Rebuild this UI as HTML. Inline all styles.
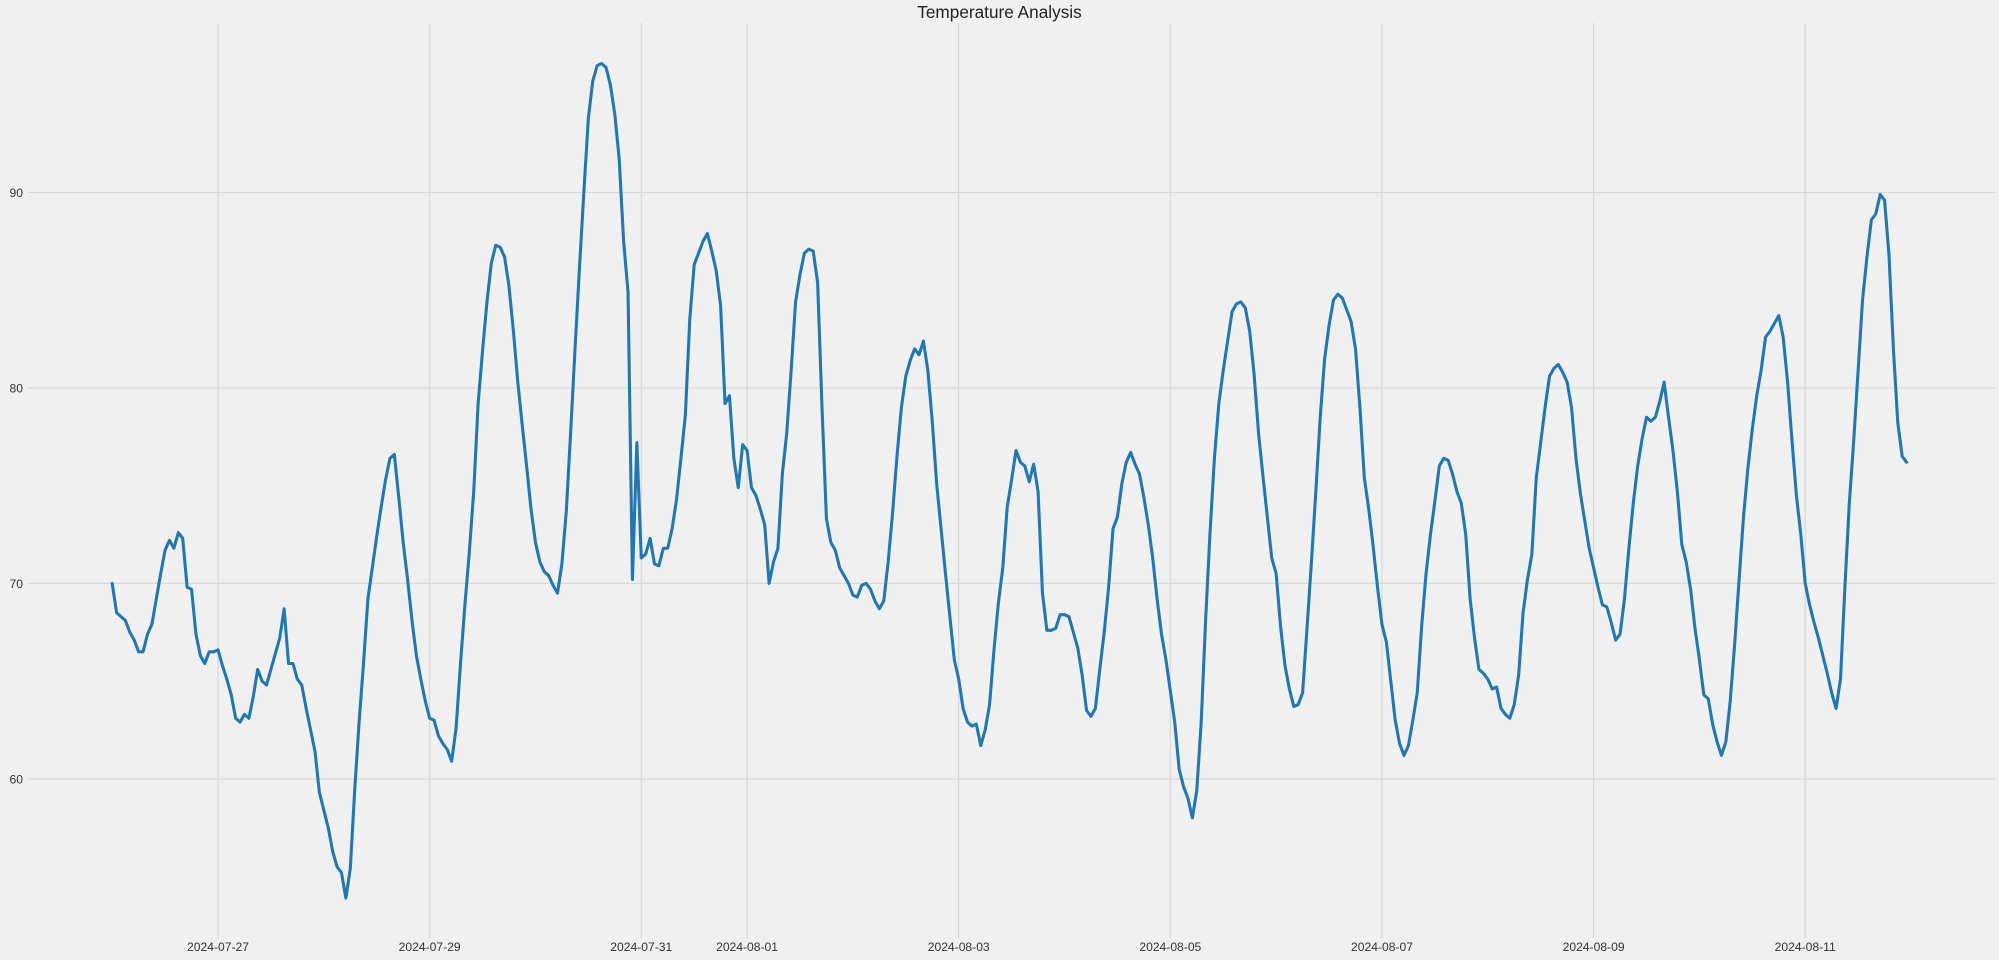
<!DOCTYPE html>
<html><head><meta charset="utf-8"><style>
html,body{margin:0;padding:0;background:#f0f0f0;}
svg{display:block;}
text{font-family:"Liberation Sans","DejaVu Sans",sans-serif;fill:#333;}
</style></head><body>
<svg id="chart" width="1999" height="960" viewBox="0 0 1568 753" preserveAspectRatio="none" xmlns="http://www.w3.org/2000/svg">
<rect x="0" y="0" width="1568" height="753" fill="#f0f0f0"/>
<text x="784" y="14" text-anchor="middle" font-size="13.5" style="fill:#222">Temperature Analysis</text>
<g id="grid"></g><g id="ticks"></g><g id="series"></g>
</svg>
<script>
const startDate = "2024-07-26T00:00";
const stepHours = 1;
const xTickLabels = ["2024-07-27","2024-07-29","2024-07-31","2024-08-01","2024-08-03","2024-08-05","2024-08-07","2024-08-09","2024-08-11"];
const yTickValues = [60,70,80,90];
const temps = [70.0,68.5,68.3,68.1,67.5,67.1,66.5,66.5,67.4,67.9,69.2,70.5,71.7,72.2,71.8,72.6,72.3,69.8,69.7,67.4,66.3,65.9,66.5,66.5,66.6,65.8,65.1,64.3,63.1,62.9,63.3,63.1,64.2,65.6,65.0,64.8,65.6,66.4,67.2,68.7,65.9,65.9,65.1,64.8,63.6,62.5,61.4,59.3,58.4,57.5,56.3,55.5,55.2,53.9,55.4,59.4,62.9,65.9,69.2,70.8,72.4,73.9,75.3,76.4,76.6,74.4,72.1,70.2,68.1,66.3,65.1,64.0,63.1,63.0,62.2,61.8,61.5,60.9,62.6,65.9,68.9,71.6,74.7,79.2,81.9,84.4,86.4,87.3,87.2,86.7,85.2,82.9,80.3,78.1,76.0,73.8,72.1,71.1,70.6,70.4,69.9,69.5,71.0,73.7,77.8,82.1,86.2,90.1,93.8,95.7,96.5,96.6,96.4,95.5,94.0,91.7,87.5,84.9,70.2,77.2,71.3,71.5,72.3,71.0,70.9,71.8,71.8,72.8,74.3,76.4,78.6,83.5,86.3,86.9,87.5,87.9,87.0,86.0,84.2,79.2,79.6,76.4,74.9,77.1,76.8,74.9,74.5,73.8,73.0,70.0,71.1,71.8,75.6,77.7,80.9,84.4,85.8,86.9,87.1,87.0,85.4,79.0,73.3,72.1,71.7,70.8,70.4,70.0,69.4,69.3,69.9,70.0,69.7,69.1,68.7,69.1,71.1,73.6,76.5,79.0,80.6,81.4,82.0,81.7,82.4,80.9,78.3,75.1,72.8,70.5,68.3,66.1,65.1,63.6,62.9,62.7,62.8,61.7,62.5,63.8,66.6,69.0,70.8,73.9,75.3,76.8,76.2,76.0,75.2,76.1,74.7,69.5,67.6,67.6,67.7,68.4,68.4,68.3,67.5,66.7,65.3,63.5,63.2,63.6,65.6,67.5,69.8,72.8,73.4,75.1,76.2,76.7,76.1,75.6,74.4,73.0,71.3,69.2,67.4,66.1,64.5,62.9,60.5,59.6,59.0,58.0,59.4,62.9,68.1,72.6,76.4,79.2,80.9,82.4,83.9,84.3,84.4,84.1,82.9,80.7,77.7,75.5,73.4,71.3,70.5,67.8,65.8,64.6,63.7,63.8,64.4,67.7,71.1,74.7,78.5,81.5,83.2,84.5,84.8,84.6,84.0,83.4,82.0,79.0,75.4,73.8,71.9,69.8,67.9,67.0,65.0,63.0,61.8,61.2,61.7,63.0,64.4,67.8,70.5,72.5,74.2,76.0,76.4,76.3,75.6,74.7,74.1,72.5,69.2,67.2,65.6,65.4,65.1,64.6,64.7,63.6,63.3,63.1,63.8,65.3,68.5,70.2,71.5,75.4,77.2,79.0,80.6,81.0,81.2,80.8,80.3,79.0,76.4,74.6,73.2,71.8,70.8,69.8,68.9,68.8,68.0,67.1,67.4,69.2,71.8,74.1,76.0,77.4,78.5,78.3,78.5,79.3,80.3,78.5,76.8,74.7,72.0,71.1,69.7,67.7,66.1,64.3,64.1,62.8,61.9,61.2,61.9,64.0,66.9,70.2,73.4,75.9,77.9,79.6,80.9,82.6,82.9,83.3,83.7,82.6,80.3,77.3,74.5,72.5,70.0,68.9,68.0,67.2,66.3,65.4,64.4,63.6,65.1,69.8,74.1,77.3,80.9,84.5,86.7,88.6,88.9,89.9,89.6,86.8,82.0,78.2,76.5,76.2];

const NS="http://www.w3.org/2000/svg";
const plotL=22, plotR=1565, plotT=18, plotB=736;
const day0 = Date.parse("2024-07-27T00:00Z");
const pxPerDay = 83.0, x0px = 171;
function xScale(ms){ return x0px + (ms-day0)/86400000*pxPerDay; }
function yScale(v){ return 151 + (90-v)*15.33; }
const startMs = Date.parse(startDate+"Z");
const grid=document.getElementById('grid'), ticks=document.getElementById('ticks'), series=document.getElementById('series');
function mk(tag,attrs,parent){const e=document.createElementNS(NS,tag);for(const k in attrs)e.setAttribute(k,attrs[k]);parent.appendChild(e);return e;}
yTickValues.forEach(v=>{
  const y=yScale(v);
  const l=mk('line',{x1:plotL,x2:plotR,y1:y,y2:y,stroke:'#d9d9d9','stroke-width':1},grid);
  
  
  const t=mk('text',{x:18,y:y+3.5,'text-anchor':'end','font-size':9.5},ticks);
  t.textContent=v;
  
  
});
xTickLabels.forEach(s=>{
  const x=xScale(Date.parse(s+"T00:00Z"));
  const l=mk('line',{x1:x,x2:x,y1:plotT,y2:plotB,stroke:'#d9d9d9','stroke-width':1},grid);
  
  
  const t=mk('text',{x:x,y:746,'text-anchor':'middle','font-size':9.5},ticks);
  t.textContent=s;
  
  
});
const pts=temps.map((v,i)=>xScale(startMs+i*stepHours*3600000).toFixed(2)+','+yScale(v).toFixed(2)).join(' ');
const pl=mk('polyline',{points:pts,fill:'none',stroke:'#1f77b4','stroke-width':2.4,'stroke-linejoin':'round','stroke-linecap':'round'},series);


</script>
</body></html>
